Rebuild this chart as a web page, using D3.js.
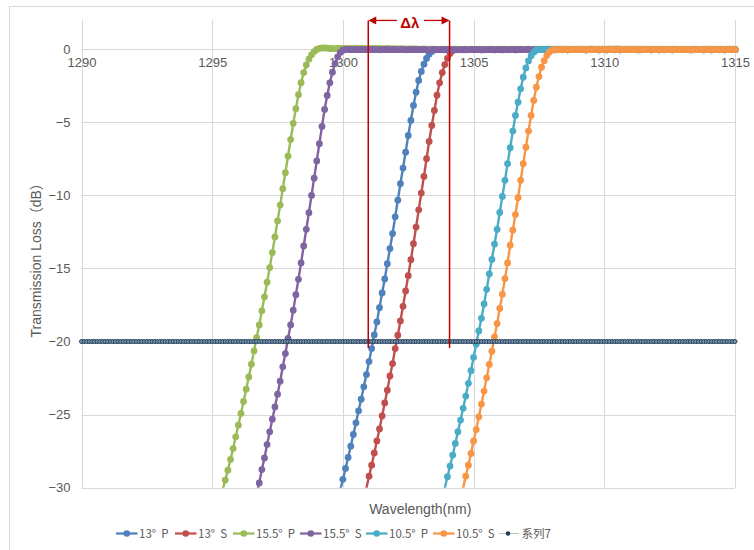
<!DOCTYPE html>
<html>
<head>
<meta charset="utf-8">
<script src="https://cdn.jsdelivr.net/npm/d3@7"></script>
<style>
  html, body { margin: 0; padding: 0; background: #fff; }
  svg { display: block; }
</style>
</head>
<body>
<svg id="chart" width="754" height="550"></svg>
<script>
// Filter edge sweeps: transmission loss (dB) sampled every 0.1 nm.
const sweepStepNm = 0.1;
const seriesNames = ["13°  P", "13°  S", "15.5°  P", "15.5°  S", "10.5°  P", "10.5°  S", "系列7"];
const seriesColors = ["#4F81BD", "#C0504D", "#9BBB59", "#8064A2", "#4BACC6", "#F79646", "#1F3B5C"];
// First wavelength (nm) of each sweep, same order as seriesNames
const sweepStartNm = [1299.8, 1300.8, 1295.3, 1296.6, 1303.8, 1304.5, 1290.0];

const loss13P = [
  -30.85,-30.15,
  -29.43,-28.68,-27.93,-27.16,-26.36,-25.56,-24.74,-23.94,-23.10,-22.26,
  -21.37,-20.48,-19.55,-18.66,-17.68,-16.68,-15.72,-14.67,-13.64,-12.61,
  -11.47,-10.33,-9.20,-8.13,-7.04,-5.90,-4.87,-3.85,-2.94,-2.14,
  -1.52,-1.02,-0.63,-0.34,-0.15,-0.05,-0.02,-0.03,-0.03,-0.04,
  -0.03,-0.04,-0.03,-0.03,-0.02,-0.03,-0.04,-0.03,-0.02,-0.03,
  -0.02,-0.03,-0.03,-0.04,-0.03,-0.02,-0.03,-0.03,-0.04,-0.03,
  -0.03,-0.04,-0.03,-0.03,-0.02,-0.03,-0.04,-0.03,-0.02,-0.03,
  -0.02,-0.03,-0.03,-0.04,-0.03,-0.02,-0.03,-0.03,-0.04,-0.03,
  -0.03,-0.04,-0.03,-0.03,-0.02,-0.03,-0.04,-0.03,-0.02,-0.03,
  -0.02,-0.03,-0.03,-0.04,-0.03,-0.02,-0.03,-0.03,-0.04,-0.03,
  -0.03,-0.04,-0.03,-0.03,-0.02,-0.03,-0.04,-0.03,-0.02,-0.03,
  -0.02,-0.03,-0.03,-0.04,-0.03,-0.02,-0.03,-0.03,-0.04,-0.03,
  -0.03,-0.04,-0.03,-0.03,-0.02,-0.03,-0.04,-0.03,-0.02,-0.03,
  -0.02,-0.03,-0.03,-0.04,-0.03,-0.02,-0.03,-0.03,-0.04,-0.03,
  -0.03,-0.04,-0.03,-0.03,-0.02,-0.03,-0.04,-0.03,-0.02,-0.03,
  -0.03
];

const loss13S = [
  -30.70,-30.02,
  -29.21,-28.46,-27.62,-26.80,-25.98,-25.09,-24.20,-23.33,-22.35,-21.51,
  -20.48,-19.57,-18.59,-17.59,-16.54,-15.49,-14.40,-13.31,-12.17,-10.99,
  -9.84,-8.70,-7.49,-6.31,-5.22,-4.19,-3.15,-2.30,-1.60,-1.05,
  -0.62,-0.30,-0.11,-0.03,-0.02,-0.03,-0.03,-0.04,-0.03,-0.03,
  -0.02,-0.03,-0.03,-0.04,-0.03,-0.02,-0.03,-0.03,-0.04,-0.03,
  -0.03,-0.04,-0.03,-0.03,-0.02,-0.03,-0.04,-0.03,-0.02,-0.03,
  -0.02,-0.03,-0.03,-0.04,-0.03,-0.02,-0.03,-0.03,-0.04,-0.03,
  -0.03,-0.04,-0.03,-0.03,-0.02,-0.03,-0.04,-0.03,-0.02,-0.03,
  -0.02,-0.03,-0.03,-0.04,-0.03,-0.02,-0.03,-0.03,-0.04,-0.03,
  -0.03,-0.04,-0.03,-0.03,-0.02,-0.03,-0.04,-0.03,-0.02,-0.03,
  -0.02,-0.03,-0.03,-0.04,-0.03,-0.02,-0.03,-0.03,-0.04,-0.03,
  -0.03,-0.04,-0.03,-0.03,-0.02,-0.03,-0.04,-0.03,-0.02,-0.03,
  -0.02,-0.03,-0.03,-0.04,-0.03,-0.02,-0.03,-0.03,-0.04,-0.03,
  -0.03,-0.04,-0.03,-0.03,-0.02,-0.03,-0.04,-0.03,-0.02,-0.03,
  -0.03
];

const loss155P = [
  -30.70,-30.12,-29.48,-28.80,-28.07,-27.32,-26.52,
  -25.72,-24.92,-24.10,-23.26,-22.42,-21.55,-20.64,-19.73,-18.86,-17.90,
  -16.94,-15.94,-14.94,-13.91,-12.84,-11.75,-10.66,-9.54,-8.45,-7.32,
  -6.18,-5.07,-4.07,-3.11,-2.29,-1.60,-1.08,-0.68,-0.38,-0.16,
  -0.02,0.06,0.09,0.09,0.07,0.05,0.04,0.04,0.05,0.05,
  0.05,0.06,0.05,0.05,0.04,0.05,0.06,0.05,0.04,0.04,
  0.05,0.04,0.05,0.06,0.05,0.04,0.04,0.05,0.04,0.03,
  0.04,0.03,0.03,0.04,0.03,0.02,0.03,0.02,0.02,0.01,
  0.01,0.02,0.01,0.00,0.01,0.01,0.00,-0.01,0.00,0.00,
  0.00,-0.01,0.00,0.01,0.00,-0.01,-0.01,0.00,-0.01,0.00,
  -0.01,0.00,0.00,-0.01,0.00,0.01,0.00,0.00,-0.01,0.00,
  0.00,0.01,0.01,0.00,0.01,0.00,0.00,0.01,0.00,-0.01,
  0.00,0.00,-0.01,0.00,0.00,0.01,0.00,0.00,0.01,0.00,
  0.01,0.00,0.00,0.01,0.01,0.00,0.00,-0.01,0.00,0.00,
  0.00,0.01,0.00,0.00,0.01,0.02,0.01,0.01,0.00,0.00,
  0.01,0.01,0.02,0.01,0.02,0.02,0.01,0.01,0.00,0.01,
  0.00,0.01,0.01,0.00,0.00,0.01,0.00,0.00,-0.01,0.00,
  0.00,0.00,-0.01,0.00,0.00,-0.01,0.00,0.00,0.00,-0.01,
  -0.01,0.00,0.00,-0.01,0.00,0.00,-0.01,-0.01,0.00,0.00,
  0.00,0.00,-0.01,0.00,0.00,0.00,-0.01,0.00,0.00,0.00,
  0.00
];

const loss155S = [
  -31.00,-30.45,-29.67,-28.76,
  -27.96,-27.05,-26.18,-25.31,-24.47,-23.60,-22.71,-21.73,-20.82,-19.79,
  -18.86,-17.86,-16.79,-15.74,-14.62,-13.46,-12.32,-11.18,-10.00,-8.82,
  -7.64,-6.46,-5.28,-4.12,-3.16,-2.30,-1.57,-0.98,-0.52,-0.22,
  -0.07,-0.02,-0.02,-0.03,-0.03,-0.02,-0.03,-0.03,-0.02,-0.03,
  -0.03,-0.02,-0.03,-0.03,-0.04,-0.03,-0.02,-0.03,-0.03,-0.02,
  -0.03,-0.03,-0.02,-0.03,-0.04,-0.03,-0.03,-0.02,-0.03,-0.03,
  -0.02,-0.03,-0.03,-0.04,-0.03,-0.02,-0.03,-0.03,-0.02,-0.03,
  -0.03,-0.02,-0.03,-0.03,-0.04,-0.03,-0.02,-0.03,-0.03,-0.02,
  -0.03,-0.03,-0.02,-0.03,-0.04,-0.03,-0.03,-0.02,-0.03,-0.03,
  -0.02,-0.03,-0.03,-0.04,-0.03,-0.02,-0.03,-0.03,-0.02,-0.03,
  -0.03,-0.02,-0.03,-0.03,-0.04,-0.03,-0.02,-0.03,-0.03,-0.02,
  -0.03,-0.03,-0.02,-0.03,-0.04,-0.03,-0.03,-0.02,-0.03,-0.03,
  -0.02,-0.03,-0.03,-0.04,-0.03,-0.02,-0.03,-0.03,-0.02,-0.03,
  -0.03,-0.02,-0.03,-0.03,-0.04,-0.03,-0.02,-0.03,-0.03,-0.02,
  -0.03,-0.03,-0.02,-0.03,-0.04,-0.03,-0.03,-0.02,-0.03,-0.03,
  -0.02,-0.03,-0.03,-0.04,-0.03,-0.02,-0.03,-0.03,-0.02,-0.03,
  -0.03,-0.02,-0.03,-0.03,-0.04,-0.03,-0.02,-0.03,-0.03,-0.02,
  -0.03,-0.03,-0.02,-0.03,-0.04,-0.03,-0.03,-0.02,-0.03,-0.03,
  -0.03
];

const loss105P = [
  -30.75,-30.02,
  -29.25,-28.52,-27.77,-26.97,-26.17,-25.37,-24.57,-23.73,-22.86,-21.99,
  -21.08,-20.19,-19.28,-18.41,-17.43,-16.43,-15.38,-14.38,-13.33,-12.33,
  -11.17,-10.07,-8.97,-7.83,-6.74,-5.60,-4.53,-3.62,-2.71,-1.91,
  -1.28,-0.80,-0.45,-0.20,-0.07,-0.02,-0.03,-0.03,-0.02,-0.03,
  -0.03,-0.04,-0.03,-0.03,-0.02,-0.03,-0.04,-0.03,-0.02,-0.03,
  -0.02,-0.03,-0.03,-0.04,-0.03,-0.02,-0.03,-0.03,-0.04,-0.03,
  -0.03,-0.04,-0.03,-0.03,-0.02,-0.03,-0.04,-0.03,-0.02,-0.03,
  -0.02,-0.03,-0.03,-0.04,-0.03,-0.02,-0.03,-0.03,-0.04,-0.03,
  -0.03,-0.04,-0.03,-0.03,-0.02,-0.03,-0.04,-0.03,-0.02,-0.03,
  -0.02,-0.03,-0.03,-0.04,-0.03,-0.02,-0.03,-0.03,-0.04,-0.03,
  -0.03,-0.04,-0.03,-0.03,-0.02,-0.03,-0.04,-0.03,-0.02,-0.03,
  -0.03
];

const loss105S = [
  -30.70,-30.01,-29.21,-28.46,-27.66,
  -26.82,-26.02,-25.15,-24.28,-23.39,-22.48,-21.57,-20.66,-19.68,-18.77,
  -17.74,-16.76,-15.69,-14.62,-13.41,-12.38,-11.31,-10.16,-8.97,-7.83,
  -6.70,-5.60,-4.53,-3.50,-2.60,-1.87,-1.23,-0.78,-0.43,-0.19,
  -0.06,-0.02,-0.03,-0.03,-0.02,-0.03,-0.02,-0.03,-0.03,-0.02,
  -0.03,-0.02,-0.03,-0.03,-0.02,-0.03,-0.03,-0.02,-0.03,-0.02,
  -0.03,-0.03,-0.02,-0.03,-0.02,-0.03,-0.03,-0.02,-0.03,-0.03,
  -0.02,-0.03,-0.02,-0.03,-0.03,-0.02,-0.03,-0.02,-0.03,-0.03,
  -0.02,-0.03,-0.03,-0.02,-0.03,-0.02,-0.03,-0.03,-0.02,-0.03,
  -0.03,-0.02,-0.03,-0.02,-0.03,-0.03,-0.02,-0.03,-0.03,-0.02,
  -0.03,-0.02,-0.03,-0.03,-0.02,-0.03,-0.02,-0.03,-0.03,-0.02,
  -0.03
];

// Reference level at -20 dB across the whole sweep
const reference20 = [
  -20,-20,-20,-20,-20,-20,-20,-20,-20,-20, -20,-20,-20,-20,-20,-20,-20,-20,-20,-20,
  -20,-20,-20,-20,-20,-20,-20,-20,-20,-20, -20,-20,-20,-20,-20,-20,-20,-20,-20,-20,
  -20,-20,-20,-20,-20,-20,-20,-20,-20,-20, -20,-20,-20,-20,-20,-20,-20,-20,-20,-20,
  -20,-20,-20,-20,-20,-20,-20,-20,-20,-20, -20,-20,-20,-20,-20,-20,-20,-20,-20,-20,
  -20,-20,-20,-20,-20,-20,-20,-20,-20,-20, -20,-20,-20,-20,-20,-20,-20,-20,-20,-20,
  -20,-20,-20,-20,-20,-20,-20,-20,-20,-20, -20,-20,-20,-20,-20,-20,-20,-20,-20,-20,
  -20,-20,-20,-20,-20,-20,-20,-20,-20,-20, -20,-20,-20,-20,-20,-20,-20,-20,-20,-20,
  -20,-20,-20,-20,-20,-20,-20,-20,-20,-20, -20,-20,-20,-20,-20,-20,-20,-20,-20,-20,
  -20,-20,-20,-20,-20,-20,-20,-20,-20,-20, -20,-20,-20,-20,-20,-20,-20,-20,-20,-20,
  -20,-20,-20,-20,-20,-20,-20,-20,-20,-20, -20,-20,-20,-20,-20,-20,-20,-20,-20,-20,
  -20,-20,-20,-20,-20,-20,-20,-20,-20,-20, -20,-20,-20,-20,-20,-20,-20,-20,-20,-20,
  -20,-20,-20,-20,-20,-20,-20,-20,-20,-20, -20,-20,-20,-20,-20,-20,-20,-20,-20,-20,
  -20,-20,-20,-20,-20,-20,-20,-20,-20,-20,
  -20
];

const xTicks = [1290, 1295, 1300, 1305, 1310, 1315];
const yTicks = [0, -5, -10, -15, -20, -25, -30];
// Δλ marker: two wavelengths and the dB span of the bracket lines
const deltaLambdaNm = [1300.97, 1304.08];
const deltaLambdaDb = [1.97, -20.45];

const seriesValues = [loss13P, loss13S, loss155P, loss155S, loss105P, loss105S, reference20];

const svg = d3.select("#chart");
const W = 754, H = 550;
const plot = { left: 81.5, right: 735, top: 20, bottom: 487.7 };

const x = d3.scaleLinear().domain([1290, 1315]).range([plot.left, plot.right]);
const y = d3.scaleLinear().domain([-30, 2]).range([plot.bottom, plot.top]);

const tickFont = "'Liberation Sans', Arial, sans-serif";
const textGrey = "#595959";
const gridGrey = "#d9d9d9";

// Chart frame
svg.append("rect").attr("x", 9.5).attr("y", 6.5).attr("width", W + 20).attr("height", H + 20)
  .attr("fill", "#fff").attr("stroke", gridGrey).attr("stroke-width", 1);

// Gridlines
const grid = svg.append("g");
grid.selectAll("line.h").data(yTicks).join("line")
  .attr("x1", plot.left).attr("x2", plot.right)
  .attr("y1", d => Math.round(y(d)) + 0.5).attr("y2", d => Math.round(y(d)) + 0.5)
  .attr("stroke", gridGrey).attr("stroke-width", 1);
grid.selectAll("line.v").data(xTicks).join("line")
  .attr("x1", d => Math.round(x(d)) + 0.5).attr("x2", d => Math.round(x(d)) + 0.5)
  .attr("y1", plot.top).attr("y2", plot.bottom)
  .attr("stroke", gridGrey).attr("stroke-width", 1);

// Axes: y labels at the left, x labels hang from the 0 dB line
const yAxis = d3.axisLeft(y).tickValues(yTicks).tickSize(0).tickPadding(11).tickFormat(d3.format("d"));
const yG = svg.append("g").attr("transform", `translate(${plot.left},0)`).call(yAxis);
yG.select(".domain").remove();
yG.selectAll("text").attr("font-family", tickFont).attr("font-size", 13).attr("fill", textGrey);

const xAxis = d3.axisBottom(x).tickValues(xTicks).tickSize(0).tickPadding(9).tickFormat(d3.format("d"));
const xG = svg.append("g").attr("transform", `translate(0,${y(0)})`).call(xAxis);
xG.select(".domain").remove();
xG.selectAll("text").attr("font-family", tickFont).attr("font-size", 13).attr("fill", textGrey);

// Axis titles
svg.append("text")
  .attr("transform", `translate(41,${(plot.top + plot.bottom) / 2 + 3}) rotate(-90)`)
  .attr("text-anchor", "middle")
  .attr("font-family", "'Liberation Sans', 'Noto Sans CJK SC', sans-serif")
  .attr("font-size", 14).attr("fill", textGrey)
  .text("Transmission Loss（dB）");
svg.append("text")
  .attr("x", (plot.left + plot.right) / 2 + 12).attr("y", 514)
  .attr("text-anchor", "middle")
  .attr("font-family", tickFont).attr("font-size", 14).attr("fill", textGrey)
  .text("Wavelength(nm)");

// Build sample points for each sweep
const series = seriesValues.map((vals, i) => ({
  name: seriesNames[i],
  color: seriesColors[i],
  points: vals.map((v, k) => ({ wl: +(sweepStartNm[i] + k * sweepStepNm).toFixed(1), v }))
}));

svg.append("defs").append("clipPath").attr("id", "plotClip")
  .append("rect").attr("x", 0).attr("y", 0).attr("width", W).attr("height", plot.bottom);

const line = d3.line().x(d => x(d.wl)).y(d => y(d.v));
const traces = svg.append("g");

series.forEach((s, i) => {
  const g = traces.append("g");
  if (i < 6) {
    g.append("path").datum(s.points)
      .attr("clip-path", "url(#plotClip)")
      .attr("d", line).attr("fill", "none")
      .attr("stroke", s.color).attr("stroke-width", 2.4).attr("stroke-linejoin", "round");
    g.selectAll("circle").data(s.points.filter(d => d.v >= -30)).join("circle")
      .attr("cx", d => x(d.wl)).attr("cy", d => y(d.v)).attr("r", 3.4)
      .attr("fill", s.color);
  } else {
    g.append("path").datum(s.points)
      .attr("d", line).attr("fill", "none")
      .attr("stroke", "#b8c7a8").attr("stroke-width", 1);
    g.selectAll("circle").data(s.points).join("circle")
      .attr("cx", d => x(d.wl)).attr("cy", d => y(d.v)).attr("r", 2)
      .attr("fill", "#7f98ad").attr("stroke", s.color).attr("stroke-width", 1);
  }
});

// Δλ bracket
const red = "#C00000";
const ann = svg.append("g");
deltaLambdaNm.forEach(wl => {
  ann.append("line")
    .attr("x1", x(wl)).attr("x2", x(wl))
    .attr("y1", y(deltaLambdaDb[0])).attr("y2", y(deltaLambdaDb[1]))
    .attr("stroke", red).attr("stroke-width", 1.5);
});
const arrowY = y(deltaLambdaDb[0]);
const xa = x(deltaLambdaNm[0]), xb = x(deltaLambdaNm[1]);
const labelX = (xa + xb) / 2 + 1;
ann.append("line").attr("x1", xa + 6).attr("x2", labelX - 13).attr("y1", arrowY).attr("y2", arrowY)
  .attr("stroke", red).attr("stroke-width", 1.3);
ann.append("line").attr("x1", labelX + 14).attr("x2", xb - 6).attr("y1", arrowY).attr("y2", arrowY)
  .attr("stroke", red).attr("stroke-width", 1.3);
ann.append("path").attr("d", `M${xa},${arrowY} l8,-4 l0,8 z`).attr("fill", red);
ann.append("path").attr("d", `M${xb},${arrowY} l-8,-4 l0,8 z`).attr("fill", red);
ann.append("text").attr("x", labelX).attr("y", arrowY + 8)
  .attr("text-anchor", "middle")
  .attr("font-family", tickFont).attr("font-weight", "bold").attr("font-size", 15).attr("fill", red)
  .text("Δλ");

// Legend
const legendXs = [116, 175, 233, 300, 366, 433, 499];
const legendY = 533.5;
const lg = svg.append("g");
series.forEach((s, i) => {
  const x0 = legendXs[i];
  const g = lg.append("g");
  if (i < 6) {
    g.append("line").attr("x1", x0).attr("x2", x0 + 21.5).attr("y1", legendY).attr("y2", legendY)
      .attr("stroke", s.color).attr("stroke-width", 2.25);
    g.append("circle").attr("cx", x0 + 10.75).attr("cy", legendY).attr("r", 3.3).attr("fill", s.color);
  } else {
    g.append("line").attr("x1", x0).attr("x2", x0 + 20).attr("y1", legendY).attr("y2", legendY)
      .attr("stroke", "#b8c7a8").attr("stroke-width", 1);
    g.append("circle").attr("cx", x0 + 9).attr("cy", legendY).attr("r", 2.2).attr("fill", s.color);
  }
  g.append("text").attr("x", x0 + (i < 6 ? 23 : 22.5)).attr("y", legendY + 4)
    .attr("font-family", "'Noto Sans CJK SC', sans-serif").attr("font-size", 11.5).attr("fill", textGrey)
    .attr("xml:space", "preserve").style("white-space", "pre")
    .text(s.name);
});
</script>
</body>
</html>
